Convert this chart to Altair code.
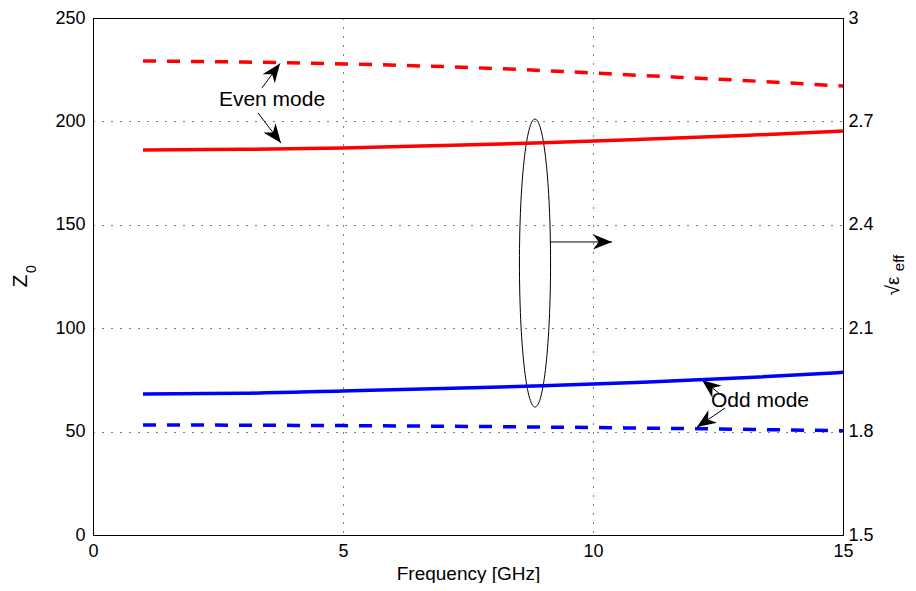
import math
import altair as alt
import pandas as pd

# ---------------- data ----------------
freq = [1, 3, 5, 7, 9, 11, 13, 15]
z0_even = [229.2, 228.7, 227.8, 226.5, 224.6, 222.2, 219.8, 217.1]
z0_odd = [53.2, 53.1, 52.9, 52.6, 52.2, 51.7, 51.1, 50.4]
eps_even = [2.617, 2.619, 2.623, 2.630, 2.638, 2.648, 2.659, 2.672]
eps_odd = [1.909, 1.911, 1.918, 1.925, 1.933, 1.943, 1.956, 1.972]

x_ticks = [0, 5, 10, 15]
z_ticks = [0, 50, 100, 150, 200, 250]
eps_ticks = [1.5, 1.8, 2.1, 2.4, 2.7, 3.0]

# annotations (data coordinates: GHz, Ohm)
labels = ["Even mode", "Odd mode"]
label_x = [3.58, 13.34]
label_y = [210.4, 64.8]
arrow_x1 = [3.38, 3.30, 9.14, 12.64, 12.64]
arrow_y1 = [216.2, 204.1, 141.7, 66.3, 61.4]
arrow_x2 = [3.74, 3.76, 10.38, 12.18, 12.08]
arrow_y2 = [228.0, 189.5, 141.7, 75.0, 52.2]
ellipse_x = [8.84]
ellipse_y = [131.5]

W, H = 750, 517
FONT = "Liberation Sans"

dashed_df = pd.DataFrame({
    "f": freq * 2,
    "z": z0_even + z0_odd,
    "mode": ["even"] * len(freq) + ["odd"] * len(freq),
})
solid_df = pd.DataFrame({
    "f": freq * 2,
    "e": eps_even + eps_odd,
    "mode": ["even"] * len(freq) + ["odd"] * len(freq),
})

px_per_x = W / 15.0
px_per_y = H / 250.0
angles = []
for a, b, c, d in zip(arrow_x1, arrow_y1, arrow_x2, arrow_y2):
    dx = (c - a) * px_per_x
    dy = -(d - b) * px_per_y
    angles.append(math.degrees(math.atan2(dx, -dy)) % 360)
arrows_df = pd.DataFrame({"x1": arrow_x1, "y1": arrow_y1, "x2": arrow_x2,
                          "y2": arrow_y2, "ang": angles})
labels_df = pd.DataFrame({"t": labels, "x": label_x, "y": label_y})
ellipse_df = pd.DataFrame({"x": ellipse_x, "y": ellipse_y})

xscale = alt.Scale(domain=[0, 15], nice=False, zero=False)
zscale = alt.Scale(domain=[0, 250], nice=False)
escale = alt.Scale(domain=[1.5, 3.0], nice=False, zero=False)
cscale = alt.Scale(domain=["even", "odd"], range=["#ff0000", "#0000ff"])

xaxis = alt.Axis(values=x_ticks, title="Frequency [GHz]", grid=True,
                 labelFlush=False, ticks=False, labelPadding=7,
                 titlePadding=4, format="d")
zaxis = alt.Axis(values=z_ticks, title=None, grid=True, ticks=False,
                 labelPadding=8, format="d", labelFlush=False)
eaxis = alt.Axis(values=eps_ticks, title=None, grid=False, ticks=False,
                 orient="right", labelPadding=5, labelFlush=False,
                 labelExpr="datum.value == 3 ? '3' : format(datum.value, '.1f')")

dashed = alt.Chart(dashed_df).mark_line(
    strokeWidth=3.5, strokeDash=[13, 11], interpolate="monotone"
).encode(
    x=alt.X("f:Q", scale=xscale, axis=xaxis),
    y=alt.Y("z:Q", scale=zscale, axis=zaxis),
    color=alt.Color("mode:N", scale=cscale, legend=None),
    detail="mode:N",
)

shafts = alt.Chart(arrows_df).mark_rule(color="black", strokeWidth=1).encode(
    x="x1:Q", y="y1:Q", x2="x2:Q", y2="y2:Q",
)
head_path = "M0,0 L-0.4,1 L0,0.7 L0.4,1 Z"
heads = alt.Chart(arrows_df).mark_point(
    shape=head_path, filled=True, color="black", opacity=1, size=1450,
    strokeWidth=0,
).encode(x="x2:Q", y="y2:Q", angle=alt.Angle("ang:Q", scale=None))

texts = alt.Chart(labels_df).mark_text(
    font=FONT, fontSize=21, color="black", align="center", baseline="middle"
).encode(x="x:Q", y="y:Q", text="t:N")

ellipse = alt.Chart(ellipse_df).mark_point(
    shape="M0,-1 A0.108,1 0 1,1 0,1 A0.108,1 0 1,1 0,-1 Z",
    filled=False, color="black", strokeWidth=1, size=288 * 288, opacity=1,
).encode(x="x:Q", y="y:Q")


def vtext(txt, size, px, py):
    return alt.Chart(pd.DataFrame({"t": [txt]})).mark_text(
        font=FONT, fontSize=size, angle=270, align="center",
        baseline="middle", color="black",
    ).encode(x=alt.value(px), y=alt.value(py), text="t:N")


left_title = vtext("Z", 21, -72, 263) + vtext("0", 14, -61, 251)
left = alt.layer(dashed, shafts, heads, texts, ellipse, left_title)

solid = alt.Chart(solid_df).mark_line(strokeWidth=3.5, interpolate="monotone").encode(
    x=alt.X("f:Q", scale=xscale, axis=xaxis),
    y=alt.Y("e:Q", scale=escale, axis=eaxis),
    color=alt.Color("mode:N", scale=cscale, legend=None),
    detail="mode:N",
)

right_title = vtext("√ε", 19, 800, 268) + vtext("eff", 15, 806, 245)

chart = alt.layer(left, solid, right_title).resolve_scale(
    y="independent"
).properties(
    width=W, height=H,
    padding={"left": 85, "top": 10, "right": 64, "bottom": 48},
    autosize=alt.AutoSizeParams(type="none"),
).configure_view(
    stroke="black", strokeWidth=1
).configure_axis(
    labelFont=FONT, titleFont=FONT, labelFontSize=18, titleFontSize=19,
    titleFontWeight="normal", labelColor="black", titleColor="black",
    domainColor="black", domainWidth=1,
    gridColor="black", gridDash=[1, 8], gridWidth=1, gridOpacity=1,
)

chart.save("out.html", embed_options={"renderer": "svg", "actions": False})
